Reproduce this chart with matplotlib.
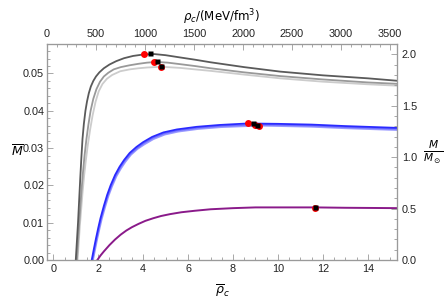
import numpy as np
import matplotlib
matplotlib.use('Agg')
import matplotlib.pyplot as plt
from matplotlib.ticker import MultipleLocator, FormatStrFormatter

plt.rcParams['font.family'] = ['Liberation Sans', 'DejaVu Sans']
plt.rcParams['mathtext.fontset'] = 'dejavusans'

# ---- data (x = rho_bar_c, y = M_bar) ----
gray_dark_x = [1.00, 1.05, 1.10, 1.15, 1.20, 1.25, 1.30, 1.36, 1.43, 1.50, 1.58, 1.67, 1.78, 1.90, 2.05,
               2.25, 2.50, 2.80, 3.15, 3.55, 4.02, 4.5, 5.0, 5.64, 6.3, 7.0, 8.5, 10.1, 12.0, 14.0, 15.4]
gray_dark_y = [0.0, 0.0050, 0.0100, 0.0160, 0.0220, 0.0275, 0.0325, 0.0365, 0.0400, 0.0425, 0.0447, 0.0465,
               0.0480, 0.0492, 0.0503, 0.0514, 0.0524, 0.0533, 0.0541, 0.0547, 0.0551, 0.0552, 0.0549, 0.0543,
               0.0537, 0.0530, 0.0517, 0.0505, 0.0495, 0.0487, 0.0480]

gray_mid_x = [1.05, 1.10, 1.15, 1.20, 1.26, 1.32, 1.39, 1.47, 1.56, 1.66, 1.78, 1.92, 2.08, 2.25, 2.45, 2.69,
              3.0, 3.4, 3.8, 4.17, 4.6, 5.1, 5.64, 6.3, 7.0, 8.5, 10.1, 12.0, 14.0, 15.4]
gray_mid_y = [0.0, 0.0048, 0.0095, 0.0140, 0.0190, 0.0235, 0.0280, 0.0322, 0.0362, 0.0400, 0.0432, 0.0458,
              0.0478, 0.0492, 0.0502, 0.0511, 0.0517, 0.0522, 0.0526, 0.0529, 0.0531, 0.0529, 0.0525, 0.0520,
              0.0514, 0.0503, 0.0493, 0.0484, 0.0476, 0.0472]

gray_light_x = [1.08, 1.13, 1.18, 1.24, 1.30, 1.37, 1.45, 1.54, 1.64, 1.75, 1.88, 2.02, 2.19, 2.39, 2.62,
                2.98, 3.4, 3.8, 4.17, 4.8, 5.64, 6.3, 7.0, 8.5, 10.1, 12.0, 14.0, 15.4]
gray_light_y = [0.0, 0.0045, 0.0090, 0.0135, 0.0180, 0.0225, 0.0268, 0.0310, 0.0350, 0.0388, 0.0424, 0.0452,
                0.0472, 0.0486, 0.0496, 0.0506, 0.0511, 0.0514, 0.0516, 0.0518, 0.0515, 0.0511, 0.0507, 0.0497,
                0.0487, 0.0478, 0.0471, 0.0467]

blue_1_x = [1.71, 1.80, 1.90, 2.00, 2.10, 2.25, 2.40, 2.55, 2.75, 2.95, 3.15, 3.40, 3.70, 4.00, 4.40, 4.90,
            5.50, 6.38, 7.40, 8.65, 10.0, 11.5, 13.0, 15.4]
blue_1_y = [0.0, 0.0028, 0.0058, 0.0086, 0.0112, 0.0145, 0.0175, 0.0200, 0.0228, 0.0250, 0.0268, 0.0287,
            0.0303, 0.0316, 0.0330, 0.0342, 0.0350, 0.0357, 0.0362, 0.0366, 0.0365, 0.0363, 0.0359, 0.0354]
blue_2_x = [1.74, 1.83, 1.93, 2.03, 2.13, 2.28, 2.43, 2.58, 2.78, 2.98, 3.18, 3.43, 3.73, 4.03, 4.43, 4.93,
            5.53, 6.41, 7.43, 8.98, 10.0, 11.5, 13.0, 15.4]
blue_2_y = [0.0, 0.0028, 0.0057, 0.0085, 0.0111, 0.0144, 0.0173, 0.0198, 0.0226, 0.0248, 0.0266, 0.0284,
            0.0300, 0.0313, 0.0327, 0.0339, 0.0347, 0.0354, 0.0359, 0.0363, 0.0362, 0.0360, 0.0356, 0.0351]
blue_3_x = [1.77, 1.86, 1.96, 2.06, 2.16, 2.31, 2.46, 2.61, 2.81, 3.01, 3.21, 3.46, 3.76, 4.06, 4.46, 4.96,
            5.56, 6.44, 7.46, 9.17, 10.0, 11.5, 13.0, 15.4]
blue_3_y = [0.0, 0.0027, 0.0057, 0.0084, 0.0110, 0.0142, 0.0172, 0.0196, 0.0224, 0.0245, 0.0263, 0.0282,
            0.0298, 0.0310, 0.0324, 0.0336, 0.0344, 0.0351, 0.0356, 0.0360, 0.0359, 0.0357, 0.0353, 0.0348]

purple_x = [1.96, 2.1, 2.25, 2.5, 2.75, 3.0, 3.25, 3.5, 3.8, 4.1, 4.45, 4.8, 5.2, 5.7, 6.3, 7.0, 8.0, 9.0,
            10.0, 11.67, 13.0, 15.4]
purple_y = [0.0, 0.0012, 0.0023, 0.0040, 0.0055, 0.0068, 0.0079, 0.0088, 0.0097, 0.0105, 0.0112, 0.0118,
            0.0123, 0.0128, 0.0132, 0.0136, 0.0139, 0.0141, 0.0141, 0.0141, 0.0140, 0.0139]

red_x = [4.04, 4.50, 4.81, 8.65, 8.98, 9.17, 11.67]
red_y = [0.0551, 0.0530, 0.0518, 0.03665, 0.0362, 0.0359, 0.0139]
sq_x = [4.32, 4.63, 4.78, 8.88, 9.05, 11.67]
sq_y = [0.0554, 0.0533, 0.0519, 0.0366, 0.0363, 0.0143]

# ---- figure ----
fig = plt.figure(figsize=(4.44, 3.01), dpi=100)
ax = fig.add_axes([0.1059, 0.1362, 0.7883, 0.7176])

ax.plot(gray_light_x, gray_light_y, color='#cccccc', lw=1.3)
ax.plot(gray_mid_x, gray_mid_y, color='#999999', lw=1.3)
ax.plot(gray_dark_x, gray_dark_y, color='#5a5a5a', lw=1.3)
ax.plot(blue_3_x, blue_3_y, color='#9a9aff', lw=1.2)
ax.plot(blue_2_x, blue_2_y, color='#7070ff', lw=1.2)
ax.plot(blue_1_x, blue_1_y, color='#2a2aff', lw=1.3)
ax.plot(purple_x, purple_y, color='#8a1a8a', lw=1.4)

ax.plot(red_x, red_y, 'o', color='#ff0000', ms=5, mec='none', zorder=5)
ax.plot(sq_x, sq_y, 's', color='black', ms=3.6, mec='none', zorder=6)

ax.set_xlim(-0.28, 15.3)
ax.set_ylim(0, 0.0579)

ax.xaxis.set_major_locator(MultipleLocator(2))
ax.xaxis.set_minor_locator(MultipleLocator(0.5))
ax.yaxis.set_major_locator(MultipleLocator(0.01))
ax.yaxis.set_minor_locator(MultipleLocator(0.002))
ax.yaxis.set_major_formatter(FormatStrFormatter('%.2f'))

ax_top = ax.twiny()
ax_top.set_xlim(0, 3571)
ax_top.xaxis.set_major_locator(MultipleLocator(500))
ax_top.xaxis.set_minor_locator(MultipleLocator(100))

ax_r = ax.twinx()
ax_r.set_ylim(0, 2.1)
ax_r.yaxis.set_major_locator(MultipleLocator(0.5))
ax_r.yaxis.set_minor_locator(MultipleLocator(0.1))
ax_r.yaxis.set_major_formatter(FormatStrFormatter('%.1f'))

frame_col = '#9a9a9a'
for a in [ax, ax_top, ax_r]:
    for s in a.spines.values():
        s.set_color(frame_col)
        s.set_linewidth(0.8)
    a.tick_params(which='both', direction='in', color=frame_col, labelsize=7.8,
                  labelcolor='#222222', width=0.6)
    a.tick_params(which='major', length=4)
    a.tick_params(which='minor', length=2)

ax.tick_params(top=False, right=False, which='both')
ax.tick_params(axis='x', pad=3)
ax.tick_params(axis='y', pad=2)

ax.set_xlabel(r'$\overline{\rho}_c$', fontsize=9, labelpad=6)
ax.set_ylabel(r'$\overline{M}$', fontsize=9, rotation=0, labelpad=4, va='center')
ax_top.set_xlabel(r'$\rho_c/(\mathrm{MeV/fm}^3)$', fontsize=8.5, labelpad=6)
ax_r.set_ylabel(r'$\frac{M}{M_\odot}$', fontsize=11, rotation=0, labelpad=12, va='center')

fig.savefig('out.png', dpi=100)
